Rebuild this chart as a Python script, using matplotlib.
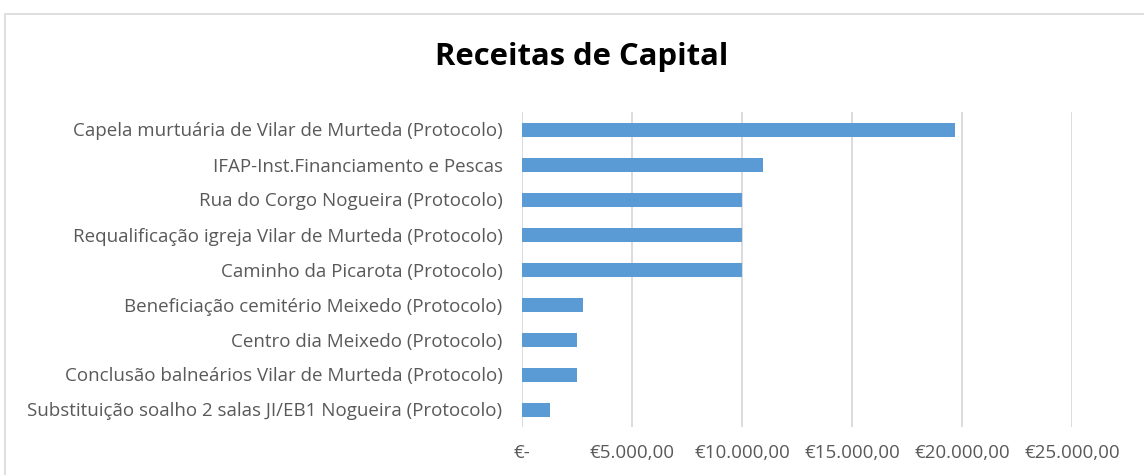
import matplotlib.pyplot as plt
from matplotlib.patches import Rectangle
from matplotlib.ticker import FuncFormatter

categories = [
    "Capela murtuária de Vilar de Murteda (Protocolo)",
    "IFAP-Inst.Financiamento e Pescas",
    "Rua do Corgo Nogueira (Protocolo)",
    "Requalificação igreja Vilar de Murteda (Protocolo)",
    "Caminho da Picarota (Protocolo)",
    "Beneficiação cemitério Meixedo (Protocolo)",
    "Centro dia Meixedo (Protocolo)",
    "Conclusão balneários Vilar de Murteda (Protocolo)",
    "Substituição soalho 2 salas JI/EB1 Nogueira (Protocolo)",
]
values = [19700, 10960, 10000, 10000, 10000, 2780, 2500, 2500, 1270]
x_ticks = [0, 5000, 10000, 15000, 20000, 25000]

plt.rcParams['font.family'] = ['Open Sans', 'DejaVu Sans']

W, H = 1144, 475
fig = plt.figure(figsize=(W / 100, H / 100), dpi=100)

# chart border (cut off on the right and bottom like the source)
fig.patches.append(Rectangle((5 / W, -0.1), 1.2, 1 - 14 / H + 0.1,
                             transform=fig.transFigure, fill=False,
                             edgecolor='#d9d9d9', linewidth=1.2))

ax = fig.add_axes([522 / W, 1 - 427 / H, (1072 - 522) / W, (427 - 112) / H])

pos = list(range(len(categories)))[::-1]
ax.barh(pos, values, height=0.4, color='#5b9bd5')

ax.set_xlim(0, 25000)
ax.set_ylim(-0.5, len(categories) - 0.5)
ax.set_xticks(x_ticks)

def euro(v, p):
    if v == 0:
        return "€-"
    return "€" + f"{v:,.2f}".replace(",", "X").replace(".", ",").replace("X", ".")

ax.xaxis.set_major_formatter(FuncFormatter(euro))
ax.set_yticks(pos)
ax.set_yticklabels(categories)
ax.tick_params(axis='both', length=0, labelsize=13.5, colors='#595959')
ax.tick_params(axis='x', pad=12)
ax.tick_params(axis='y', pad=14)
ax.grid(axis='x', color='#d9d9d9', linewidth=1.3)
ax.set_axisbelow(True)
for s in ax.spines.values():
    s.set_visible(False)

fig.text(582 / W, 1 - 57 / H, "Receitas de Capital", ha='center', va='center',
         fontsize=22.3, fontweight='bold', color='black')

fig.savefig('out.png', dpi=100)
